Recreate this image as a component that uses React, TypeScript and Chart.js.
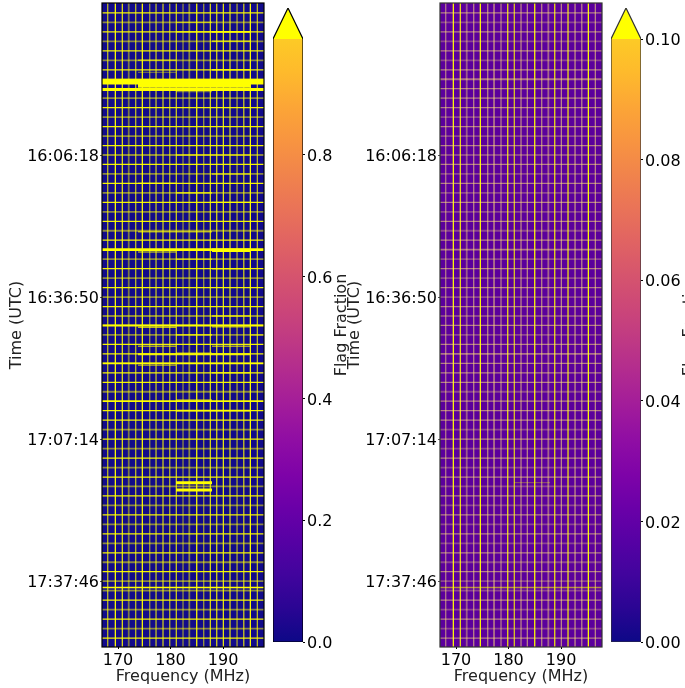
import React, { useEffect, useRef } from "react";
import { Chart, registerables } from "chart.js";

Chart.register(...registerables);

const FONT = '"DejaVu Sans"';
const freqMin = 166.95;
const freqMax = 197.8;
const rowMin = -1.05;
const rowMax = 66.95;

const freqTicks = [170, 180, 190];
const rowTicks = [15, 30, 45, 60];
const timeLabels = ["16:06:18", "16:36:50", "17:07:14", "17:37:46"];

// flagged frequency channels (MHz)
const channels = [168.04, 169.49, 170.82, 172.04, 173.37, 174.63, 176.04, 177.24, 178.57, 179.85, 181.1, 182.38, 183.58, 184.99, 186.32, 187.58, 188.8, 190.06, 191.33, 192.67, 193.95, 195.2, 196.53];
const channelLevelsA = [0.75, 1, 0.9, 0.45, 0.75, 1, 0.6, 0.75, 0.8, 0.7, 0.8, 0.55, 0.5, 1, 0.6, 0.85, 0.85, 0.9, 0.85, 0.45, 0.8, 1, 0.75];
const channelLevelsB = [0.55, 1, 0.9, 0.4, 0.6, 1, 0.6, 0.5, 0.55, 0.9, 0.8, 0.6, 0.6, 1, 0.6, 0.45, 0.9, 0.6, 0.9, 0.45, 0.6, 1, 0.6];

// flag level of each time row
const rowLevelsA = [0.95, 0.5, 0.95, 0.5, 0.95, 0.5, 0.95, 0.5, 0.95, 0.5, 0.95, 0.5, 0.95, 0.5, 0.95, 0.5, 0.95, 0.5, 0.95, 0.5, 0.95, 0.5, 0.95, 0.5, 0.95, 1, 0.5, 0.95, 0.5, 0.95, 0.5, 0.95, 0.5, 1, 0.5, 0.95, 0.95, 0.95, 0.95, 0.95, 0.5, 0.95, 0.95, 0.95, 0.5, 0.95, 0.5, 0.95, 0.5, 0.95, 0.5, 0.95, 0.5, 0.95, 0.5, 0.95, 0.5, 0.95, 0.5, 0.95, 0.5, 0.5, 0.95, 0.5, 0.95, 0.5, 0.95];
const rowLevelsB = [0.55, 0.3, 0.55, 0.3, 0.55, 0.3, 0.55, 0.5, 0.55, 0.4, 0.55, 0.3, 0.55, 0.3, 0.55, 0.3, 0.55, 0.3, 0.55, 0.3, 0.55, 0.3, 0.55, 0.3, 0.55, 0.5, 0.3, 0.55, 0.3, 0.55, 0.3, 0.55, 0.3, 0.55, 0.3, 0.55, 0.5, 0.55, 0.55, 0.55, 0.3, 0.55, 0.55, 0.55, 0.3, 0.55, 0.3, 0.55, 0.3, 0.55, 0.3, 0.55, 0.3, 0.55, 0.3, 0.55, 0.3, 0.55, 0.3, 0.55, 0.3, 0.3, 0.55, 0.3, 0.55, 0.3, 0.55];

// partially flagged rows: row, start MHz, end MHz, level, weight
const segmentsA = [
  [1, 181.05, 187.9, 0.55, 1.2],
  [2, 181.05, 187.9, 0.9, 1.3],
  [2, 187.9, 195.14, 1, 1.8],
  [3, 187.9, 195.14, 0.7, 1.5],
  [5, 173.8, 181.05, 0.55, 1.5],
  [6, 187.9, 195.14, 0.9, 1.3],
  [6.27, 173.8, 181.05, 0.45, 1],
  [7.26, freqMin, freqMax, 1, 5.5],
  [7.7, 173.8, 195.14, 1, 4],
  [8.08, freqMin, freqMax, 1, 3],
  [8.3, 181.05, 187.9, 0.45, 1.5],
  [15, 181.05, 187.9, 0.65, 1.3],
  [15, 187.9, 195.14, 0.6, 1.5],
  [17, 187.9, 195.14, 0.6, 1.5],
  [18, 173.8, 181.05, 1, 1.3],
  [19, 181.05, 187.9, 0.9, 1.3],
  [20, 187.9, 195.14, 0.8, 1.3],
  [23.1, 173.8, 187.9, 0.6, 1.6],
  [25, freqMin, freqMax, 1, 2.8],
  [25.05, 187.9, 195.14, 1, 3.5],
  [25.25, 173.8, 181.05, 0.6, 1.5],
  [26, 181.05, 187.9, 0.6, 1.5],
  [27, 187.9, 195.14, 0.7, 1.5],
  [32, 187.9, 195.14, 0.7, 1.5],
  [33, freqMin, freqMax, 1, 2],
  [33.2, 173.8, 181.05, 0.7, 1.5],
  [33.15, 187.9, 195.14, 0.7, 1.3],
  [34, 181.05, 187.9, 0.9, 1.3],
  [34, 195.14, freqMax, 0.7, 1.2],
  [35.2, 173.8, 181.05, 0.6, 1.5],
  [35.2, 187.9, 195.14, 0.6, 1.5],
  [35.9, 181.05, 187.9, 0.45, 1.2],
  [36.05, 173.8, 195.14, 0.9, 2],
  [37, freqMin, freqMax, 1, 1.8],
  [37.2, 173.8, 181.05, 0.5, 1.5],
  [38, 187.9, 195.14, 0.7, 1.5],
  [41, freqMin, freqMax, 1, 1.6],
  [40.9, 181.05, 187.9, 0.6, 2],
  [42, 181.05, 195.14, 1, 1.8],
  [49.6, 181.05, 187.9, 1, 3],
  [50.37, 181.05, 187.9, 1, 3],
  [60.66, freqMin, freqMax, 1, 1.6],
];
const segmentsB = [
  [49.6, 181.05, 187.9, 0.35, 1],
  [60.66, freqMin, freqMax, 0.55, 1.6],
];

const bar1Ticks = [0, 0.2, 0.4, 0.6, 0.8];
const bar2Ticks = [0, 0.02, 0.04, 0.06, 0.08, 0.1];
const plasma = ["#0d0887", "#2a0593", "#41049d", "#5601a4", "#6a00a8", "#7e03a8", "#8f0da4", "#a11b9b", "#b12a90", "#bf3984", "#cc4778", "#d6556d", "#e16462", "#ea7457", "#f1844b", "#f89540", "#fca636", "#feba2c", "#fdca26"];

const yellow = (a: number) => `rgba(255,255,0,${a})`;
const pale = (a: number) => (a >= 0.8 ? yellow(a) : `rgba(255,225,120,${a})`);

function lineSet(points: { x: number; y: number }[], color: string, width: number, extra: any = {}) {
  return { data: points, borderColor: color, borderWidth: width, showLine: true, pointRadius: 0, fill: false, ...extra };
}

const fixedTicks = (list: number[]) => (axis: any) => {
  axis.ticks = list.map((value) => ({ value }));
};

const framePlugin = {
  id: "frame",
  beforeDatasetsDraw(chart: any, _a: any, opts: any) {
    const { ctx, chartArea: c } = chart;
    ctx.save();
    ctx.fillStyle = opts.color;
    ctx.fillRect(c.left, c.top, c.width, c.height);
    ctx.restore();
  },
  afterDraw(chart: any, _a: any, opts: any) {
    const { ctx, chartArea: c } = chart;
    ctx.save();
    ctx.strokeStyle = opts.edge;
    ctx.lineWidth = 1.2;
    ctx.strokeRect(c.left, c.top, c.width, c.height);
    ctx.restore();
  },
};

const noPad = (s: any) => {
  s.paddingTop = 0;
  s.paddingBottom = 0;
  s.paddingLeft = 0;
  s.paddingRight = 0;
};

function Waterfall({ left, bg, edge, chLevels, rowLevels, segments, tint }: any) {
  const ref = useRef<HTMLCanvasElement>(null);
  useEffect(() => {
    const rows = rowLevels.map((lv: number, r: number) =>
      lineSet([{ x: freqMin, y: r }, { x: freqMax, y: r }], tint(lv), lv > 0.52 ? 1.25 : 1.8)
    );
    const segs = segments.map((s: number[]) =>
      lineSet([{ x: s[1], y: s[0] }, { x: s[2], y: s[0] }], yellow(s[3]), s[4])
    );
    const chans = channels.map((f, i) =>
      lineSet([{ x: f, y: rowMin }, { x: f, y: rowMax }], tint(chLevels[i]), chLevels[i] > 0.5 ? 1.25 : 1.8)
    );
    const chart = new Chart(ref.current as HTMLCanvasElement, {
      type: "scatter",
      data: { datasets: [...segs, ...rows, ...chans] },
      plugins: [framePlugin],
      options: {
        animation: false,
        responsive: false,
        layout: { padding: { top: 3, right: 6, left: 0, bottom: 0 } },
        plugins: { legend: { display: false }, tooltip: { enabled: false }, frame: { color: bg, edge } } as any,
        scales: {
          x: {
            type: "linear",
            min: freqMin,
            max: freqMax,
            afterBuildTicks: fixedTicks(freqTicks),
            afterFit: (s: any) => { s.height = 41; noPad(s); },
            grid: { drawOnChartArea: false, tickLength: 2, color: "#000" },
            border: { display: false },
            ticks: { color: "#000", font: { family: FONT, size: 16 }, padding: 2, maxRotation: 0, autoSkip: false },
            title: { display: true, text: "Frequency (MHz)", color: "#222", font: { family: FONT, size: 16 }, padding: { top: 0, bottom: 2 } },
          },
          y: {
            type: "linear",
            reverse: true,
            min: rowMin,
            max: rowMax,
            afterBuildTicks: fixedTicks(rowTicks),
            afterFit: (s: any) => { s.width = 102; noPad(s); },
            grid: { drawOnChartArea: false, tickLength: 2, color: "#555" },
            border: { display: false },
            ticks: {
              color: "#000",
              font: { family: FONT, size: 16 },
              padding: 1,
              labelOffset: 2,
              autoSkip: false,
              maxRotation: 0,
              callback: (v: any) => timeLabels[rowTicks.indexOf(Number(v))] ?? "",
            },
            title: { display: true, text: "Time (UTC)", color: "#222", font: { family: FONT, size: 16 }, padding: { top: 7, bottom: 0 } },
          },
        },
      },
    } as any);
    return () => chart.destroy();
  }, []);
  return <canvas ref={ref} width={270} height={688} style={{ position: "absolute", left, top: 0 }} />;
}

function ColorBar({ left, width, vmax, ticks, digits, edge, labelX }: any) {
  const ref = useRef<HTMLCanvasElement>(null);
  useEffect(() => {
    const ext = vmax * (1 + 31 / 603);
    const labelPlugin = {
      id: "cbLabel",
      afterDraw(chart: any) {
        const { ctx, chartArea: c } = chart;
        ctx.save();
        ctx.translate(c.left + labelX, 325);
        ctx.rotate(-Math.PI / 2);
        ctx.textAlign = "center";
        ctx.textBaseline = "middle";
        ctx.fillStyle = "#222";
        ctx.font = `16px ${FONT}`;
        ctx.fillText("Flag Fraction", 0, 0);
        ctx.restore();
      },
    };
    const gradient = (context: any) => {
      const { chart } = context;
      const y = chart.scales.y;
      if (!y || !chart.chartArea) return plasma[0];
      const g = chart.ctx.createLinearGradient(0, y.getPixelForValue(0), 0, y.getPixelForValue(vmax));
      plasma.forEach((c, i) => g.addColorStop(i / (plasma.length - 1), c));
      return g;
    };
    const chart = new Chart(ref.current as HTMLCanvasElement, {
      type: "scatter",
      data: {
        datasets: [
          lineSet([{ x: 0, y: 0 }, { x: 0, y: vmax }, { x: 0.5, y: ext }, { x: 1, y: vmax }, { x: 1, y: 0 }, { x: 0, y: 0 }], edge, 1.2),
          lineSet([{ x: 0, y: vmax }, { x: 0.5, y: ext }, { x: 1, y: vmax }], "rgba(0,0,0,0)", 0, { fill: { value: vmax }, backgroundColor: "#ffff00" }),
          lineSet([{ x: 0, y: vmax }, { x: 1, y: vmax }], "rgba(0,0,0,0)", 0, { fill: { value: 0 }, backgroundColor: gradient }),
        ],
      },
      plugins: [labelPlugin],
      options: {
        animation: false,
        responsive: false,
        layout: { padding: { top: 8, right: 0, left: 0, bottom: 46 } },
        plugins: { legend: { display: false }, tooltip: { enabled: false } },
        scales: {
          x: { type: "linear", min: 0, max: 1, display: false },
          y: {
            type: "linear",
            position: "right",
            min: 0,
            max: ext,
            afterBuildTicks: fixedTicks(ticks),
            afterFit: (s: any) => { s.width = width - 30; noPad(s); },
            grid: { drawOnChartArea: false, tickLength: 2, color: "#000" },
            border: { display: false },
            ticks: {
              color: "#000",
              font: { family: FONT, size: 16 },
              padding: 2,
              labelOffset: 2,
              autoSkip: false,
              maxRotation: 0,
              callback: (v: any) => Number(v).toFixed(digits),
            },
          },
        },
      },
    } as any);
    return () => chart.destroy();
  }, []);
  return <canvas ref={ref} width={width} height={688} style={{ position: "absolute", left, top: 0 }} />;
}

export default function App() {
  return (
    <div style={{ position: "absolute", left: 0, top: 0, width: 685, height: 688, overflow: "hidden", background: "#fff" }}>
      <Waterfall left={0} bg="#120b8a" edge="#000" chLevels={channelLevelsA} rowLevels={rowLevelsA} segments={segmentsA} tint={yellow} />
      <Waterfall left={338} bg="#5b009c" edge="#333" chLevels={channelLevelsB} rowLevels={rowLevelsB} segments={segmentsB} tint={pale} />
      <ColorBar left={273} width={82} vmax={0.99} ticks={bar1Ticks} digits={1} edge="#000" labelX={69} />
      <ColorBar left={611} width={74} vmax={0.1} ticks={bar2Ticks} digits={2} edge="#333" labelX={79} />
    </div>
  );
}
